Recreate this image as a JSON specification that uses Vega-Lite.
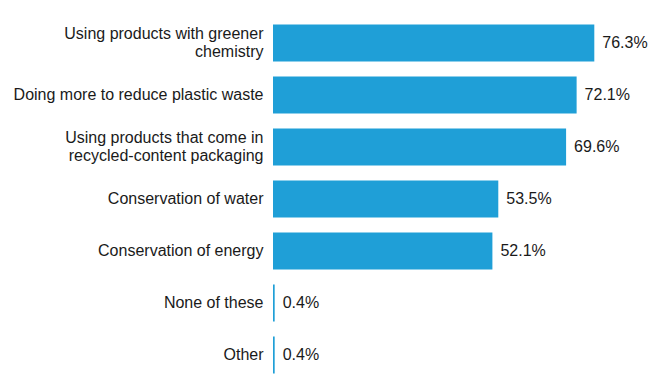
{
  "$schema": "https://vega.github.io/schema/vega-lite/v6.json",
  "autosize": "none",
  "padding": {"left": 273, "top": 17, "right": 0, "bottom": 0},
  "width": 379,
  "height": 364,
  "background": "white",
  "data": {
    "values": [
      {"item": "Using products with greener|chemistry", "value": 76.3},
      {"item": "Doing more to reduce plastic waste", "value": 72.1},
      {"item": "Using products that come in|recycled-content packaging", "value": 69.6},
      {"item": "Conservation of water", "value": 53.5},
      {"item": "Conservation of energy", "value": 52.1},
      {"item": "None of these", "value": 0.4},
      {"item": "Other", "value": 0.4}
    ]
  },
  "encoding": {
    "y": {
      "field": "item",
      "type": "nominal",
      "sort": null,
      "scale": {"paddingInner": 0.29, "paddingOuter": 0.145},
      "axis": {
        "title": null,
        "domain": false,
        "ticks": false,
        "labelPadding": 10,
        "labelFont": "Liberation Sans",
        "labelFontSize": 16,
        "labelColor": "#1a1a1a",
        "labelLimit": 300,
        "labelLineHeight": 18,
        "labelOffset": {"condition": {"test": "indexof(datum.label, '|') >= 0", "value": -9}, "value": 0},
        "labelExpr": "split(datum.label, '|')"
      }
    },
    "x": {
      "field": "value",
      "type": "quantitative",
      "scale": {"domain": [0, 90], "nice": false},
      "axis": null
    }
  },
  "layer": [
    {"mark": {"type": "bar", "color": "#1F9FD7"}},
    {
      "mark": {
        "type": "text",
        "align": "left",
        "baseline": "middle",
        "dx": 8,
        "font": "Liberation Sans",
        "fontSize": 16,
        "color": "#1a1a1a",
        "text": {"expr": "format(datum.value, '.1f') + '%'"}
      }
    }
  ],
  "config": {"view": {"stroke": null}}
}
